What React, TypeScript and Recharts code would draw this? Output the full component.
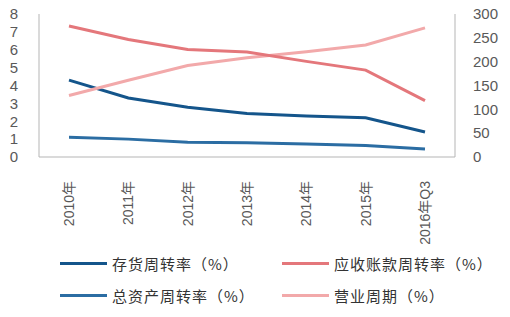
import React from "react";
import { LineChart, Line, XAxis, YAxis, Legend } from "recharts";

const categories = ["2010年", "2011年", "2012年", "2013年", "2014年", "2015年", "2016年Q3"];
const inventoryTurnover = [4.3, 3.3, 2.78, 2.44, 2.3, 2.2, 1.4];
const receivableTurnover = [7.33, 6.57, 6.02, 5.88, 5.35, 4.86, 3.15];
const assetTurnover = [1.1, 1.0, 0.83, 0.8, 0.73, 0.65, 0.45];
const operatingCycle = [129, 161, 192, 208, 221, 235, 271];
const leftTicks = [0, 1, 2, 3, 4, 5, 6, 7, 8];
const rightTicks = [0, 50, 100, 150, 200, 250, 300];

const seriesNames = {
  inv: "存货周转率（%）",
  rec: "应收账款周转率（%）",
  ast: "总资产周转率（%）",
  cyc: "营业周期（%）",
};

const colors = {
  inv: "#14558b",
  rec: "#e4777b",
  ast: "#2b6da3",
  cyc: "#f2a9aa",
};

const data = categories.map((c, i) => ({
  name: c,
  inv: inventoryTurnover[i],
  rec: receivableTurnover[i],
  ast: assetTurnover[i],
  cyc: operatingCycle[i],
}));

const FONT = "'Liberation Sans', Arial, 'Noto Sans CJK SC', sans-serif";
const AXIS_COLOR = "#b5b5b5";
const TICK_COLOR = "#595959";

const XTick = (props: any) => {
  const { x, y, payload } = props;
  return (
    <text
      x={0}
      y={0}
      transform={`translate(${x},${y + 24}) rotate(-90)`}
      textAnchor="end"
      dominantBaseline="central"
      fontSize={14}
      fill={TICK_COLOR}
      fontFamily={FONT}
    >
      {payload.value}
    </text>
  );
};

const legendItems: { key: keyof typeof colors }[] = [
  { key: "inv" },
  { key: "rec" },
  { key: "ast" },
  { key: "cyc" },
];

const LegendContent = () => (
  <div
    style={{
      display: "grid",
      gridTemplateColumns: "222px auto",
      gridAutoRows: "32px",
      paddingLeft: 60,
      width: 450,
      fontFamily: "'Noto Sans CJK SC', sans-serif",
    }}
  >
    {legendItems.map((it) => (
      <div key={it.key} style={{ display: "flex", alignItems: "center" }}>
        <div style={{ width: 47, height: 3, background: colors[it.key], marginRight: 5 }} />
        <span style={{ fontSize: 15, letterSpacing: 1, color: "#333" }}>{seriesNames[it.key]}</span>
      </div>
    ))}
  </div>
);

export default function App() {
  return (
    <div style={{ position: "absolute", left: 0, top: 0, width: 510, height: 317, background: "#fff" }}>
      <LineChart width={510} height={317} data={data} margin={{ top: 14, right: 0, left: 0, bottom: 6 }}>
        <XAxis
          dataKey="name"
          height={90}
          padding={{ left: 30, right: 30 }}
          tick={<XTick />}
          tickLine={false}
          tickSize={0}
          tickMargin={0}
          axisLine={{ stroke: AXIS_COLOR, strokeWidth: 1 }}
          interval={0}
        />
        <YAxis
          yAxisId="left"
          orientation="left"
          width={39}
          domain={[0, 8]}
          ticks={leftTicks}
          interval={0}
          tickLine={false}
          tickSize={0}
          tickMargin={21}
          axisLine={{ stroke: AXIS_COLOR, strokeWidth: 1 }}
          tick={{ fontSize: 15, fill: TICK_COLOR, fontFamily: FONT }}
        />
        <YAxis
          yAxisId="right"
          orientation="right"
          width={55}
          domain={[0, 300]}
          ticks={rightTicks}
          interval={0}
          tickLine={false}
          tickSize={0}
          tickMargin={18}
          axisLine={{ stroke: AXIS_COLOR, strokeWidth: 1 }}
          tick={{ fontSize: 15, fill: TICK_COLOR, fontFamily: FONT }}
        />
        <Legend verticalAlign="bottom" align="left" content={<LegendContent />} />
        <Line yAxisId="left" dataKey="ast" name={seriesNames.ast} stroke={colors.ast} strokeWidth={3} dot={false} isAnimationActive={false} />
        <Line yAxisId="left" dataKey="inv" name={seriesNames.inv} stroke={colors.inv} strokeWidth={3} dot={false} isAnimationActive={false} />
        <Line yAxisId="right" dataKey="cyc" name={seriesNames.cyc} stroke={colors.cyc} strokeWidth={3} dot={false} isAnimationActive={false} />
        <Line yAxisId="left" dataKey="rec" name={seriesNames.rec} stroke={colors.rec} strokeWidth={3} dot={false} isAnimationActive={false} />
      </LineChart>
    </div>
  );
}
